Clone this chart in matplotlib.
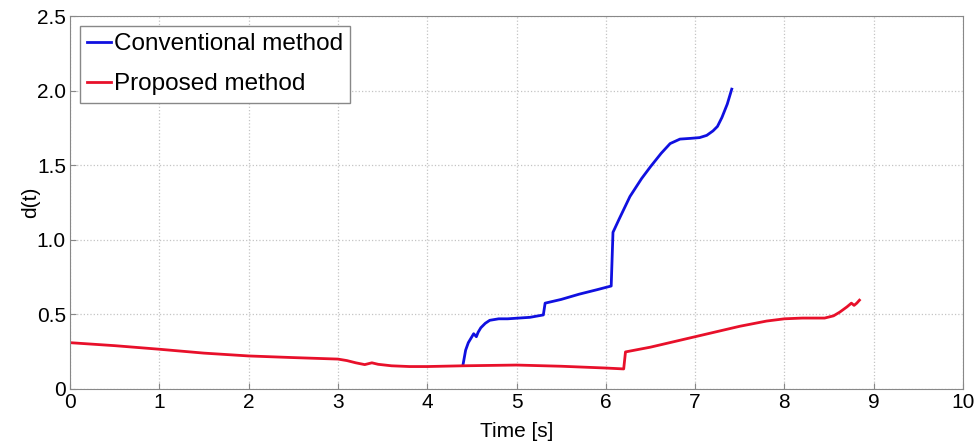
import matplotlib.pyplot as plt
import numpy as np

plt.rcParams['font.family'] = ['Liberation Sans', 'DejaVu Sans']

# conventional method trajectory
t_conv = [4.40, 4.43, 4.46, 4.49, 4.52, 4.55, 4.57, 4.60, 4.65, 4.70, 4.80, 4.90, 5.00,
          5.15, 5.30, 5.32, 5.50, 5.70, 5.90, 6.06, 6.08, 6.15, 6.27, 6.40, 6.50,
          6.62, 6.72, 6.83, 6.95, 7.05, 7.13, 7.20, 7.25, 7.30, 7.36, 7.41]
d_conv = [0.16, 0.26, 0.31, 0.34, 0.37, 0.35, 0.38, 0.41, 0.44, 0.46, 0.47, 0.47, 0.474,
          0.48, 0.496, 0.575, 0.60, 0.635, 0.665, 0.69, 1.05, 1.14, 1.29, 1.41, 1.49,
          1.58, 1.645, 1.675, 1.68, 1.685, 1.70, 1.73, 1.76, 1.82, 1.91, 2.01]

# proposed method trajectory
t_prop = [0.0, 0.5, 1.0, 1.5, 2.0, 2.5, 3.0, 3.1, 3.2, 3.3, 3.38, 3.45, 3.6, 3.8, 4.0,
          4.4, 5.0, 5.5, 6.0, 6.2, 6.22, 6.5, 7.0, 7.5, 7.8, 8.0, 8.2, 8.45, 8.55,
          8.62, 8.70, 8.75, 8.78, 8.81, 8.84]
d_prop = [0.31, 0.29, 0.266, 0.24, 0.221, 0.21, 0.20, 0.19, 0.175, 0.163, 0.175, 0.165,
          0.155, 0.15, 0.15, 0.155, 0.16, 0.152, 0.14, 0.134, 0.248, 0.28, 0.35, 0.42,
          0.455, 0.47, 0.475, 0.475, 0.49, 0.515, 0.55, 0.575, 0.56, 0.575, 0.595]

xticks = np.arange(0, 11, 1)
yticks = [0, 0.5, 1.0, 1.5, 2.0, 2.5]
ytick_labels = ['0', '0.5', '1.0', '1.5', '2.0', '2.5']

fig = plt.figure(figsize=(9.77, 4.46), dpi=100)
ax = fig.add_axes([0.0717, 0.128, 0.914, 0.836])

ax.plot(t_conv, d_conv, color='#1010e0', lw=2.0, label='Conventional method')
ax.plot(t_prop, d_prop, color='#e8102a', lw=2.0, label='Proposed method')

ax.set_xlim(0, 10)
ax.set_ylim(0, 2.5)
ax.set_xticks(xticks)
ax.set_yticks(yticks)
ax.set_yticklabels(ytick_labels)
ax.tick_params(direction='in', labelsize=15, length=4, color='#888888', pad=3)
ax.grid(True, linestyle=':', color='#c4c4c4', lw=0.9)
for sp in ax.spines.values():
	sp.set_color('#888888')

ax.set_xlabel('Time [s]', fontsize=15)
ax.set_ylabel('d(t)', fontsize=15)
ax.xaxis.set_label_coords(0.5, -0.088)
ax.yaxis.set_label_coords(-0.034, 0.5)

leg = ax.legend(loc='upper left', fontsize=17.5, handlelength=1.0, handletextpad=0.1,
	labelspacing=0.75, borderaxespad=0.4, borderpad=0.3, fancybox=False, framealpha=1)
leg.get_frame().set_edgecolor('#888888')

plt.savefig('out.png', dpi=100)
